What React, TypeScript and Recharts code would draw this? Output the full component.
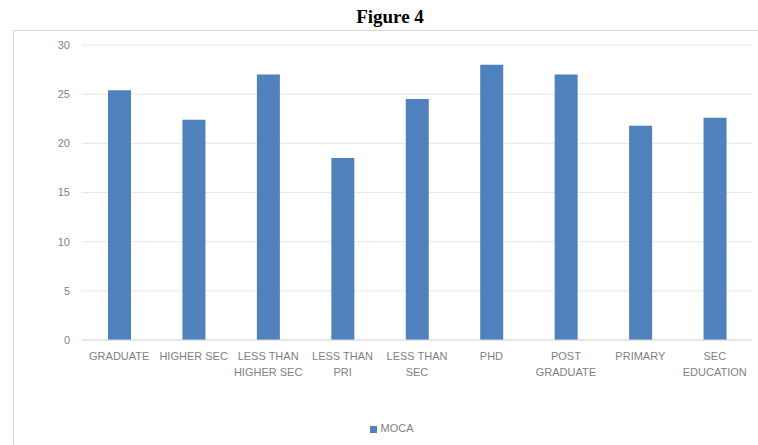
import React from "react";
import {
  BarChart, Bar, XAxis, YAxis, CartesianGrid, Legend,
} from "recharts";

const CATEGORIES = [
  "GRADUATE", "HIGHER SEC", "LESS THAN HIGHER SEC", "LESS THAN PRI",
  "LESS THAN SEC", "PHD", "POST GRADUATE", "PRIMARY", "SEC EDUCATION",
];
const MOCA = [25.4, 22.4, 27.0, 18.5, 24.5, 28.0, 27.0, 21.8, 22.6];
const Y_TICKS = [0, 5, 10, 15, 20, 25, 30];

const data = CATEGORIES.map((name, i) => ({ name, MOCA: MOCA[i] }));

const FONT = "'Liberation Sans', Arial, sans-serif";
const GREY = "#7f7f7f";

// greedy wrap like Excel does for narrow category slots
function wrap(label: string, max = 10): string[] {
  const words = label.split(" ");
  const lines: string[] = [];
  let cur = "";
  for (const w of words) {
    const next = cur ? cur + " " + w : w;
    if (next.length > max && cur) {
      lines.push(cur);
      cur = w;
    } else {
      cur = next;
    }
  }
  if (cur) lines.push(cur);
  return lines;
}

function CategoryTick(props: any) {
  const { x, y, payload } = props;
  const lines = wrap(String(payload.value));
  return (
    <text x={x} y={y} textAnchor="middle" fill={GREY} fontSize={11} fontFamily={FONT}>
      {lines.map((l, i) => (
        <tspan key={i} x={x} dy={i === 0 ? "0.71em" : 16}>{l}</tspan>
      ))}
    </text>
  );
}

export default function App() {
  return (
    <div style={{ position: "absolute", left: 0, top: 0, width: 758, height: 445, background: "#fff", overflow: "hidden" }}>
      <div
        style={{
          position: "absolute", left: 0, top: 6, width: 780, textAlign: "center",
          fontFamily: "'Liberation Serif', 'Times New Roman', serif",
          fontWeight: "bold", fontSize: 19, color: "#000",
        }}
      >
        Figure 4
      </div>
      <div style={{ position: "absolute", left: 13, top: 30, width: 760, height: 430, border: "1px solid #d9d9d9", boxSizing: "border-box" }} />
      <div style={{ position: "absolute", left: 13, top: 30 }}>
        <BarChart
          width={745}
          height={415}
          data={data}
          margin={{ top: 15, right: 6, left: 0, bottom: 0 }}
          barSize={23}
          style={{ fontFamily: FONT }}
        >
          <CartesianGrid vertical={false} stroke="#e6e6e6" />
          <XAxis
            dataKey="name"
            axisLine={{ stroke: "#d9d9d9" }}
            tickLine={false}
            tickMargin={6}
            height={75}
            interval={0}
            tick={<CategoryTick />}
          />
          <YAxis
            domain={[0, 30]}
            ticks={Y_TICKS}
            width={69}
            axisLine={false}
            tickLine={false}
            tickMargin={6}
            tick={{ fill: GREY, fontSize: 11, fontFamily: FONT }}
          />
          <Legend
            verticalAlign="bottom"
            height={30}
            iconType="square"
            iconSize={7}
            wrapperStyle={{ top: 392, left: 14, fontSize: 11, fontFamily: FONT }}
            formatter={(v: string) => <span style={{ color: GREY }}>{v}</span>}
          />
          <Bar dataKey="MOCA" fill="#4f81bd" isAnimationActive={false} />
        </BarChart>
      </div>
    </div>
  );
}
